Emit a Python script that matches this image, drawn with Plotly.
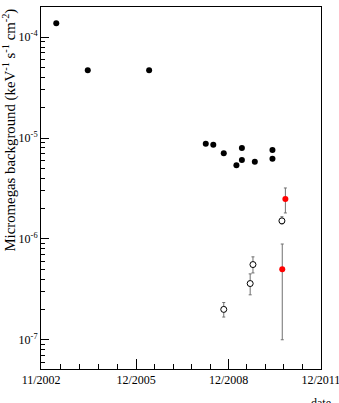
import plotly.graph_objects as go
import pandas as pd

# Black filled points (no visible error bars)
black_dates = ["2003-05-01", "2004-05-08", "2006-05-05", "2008-03-06", "2008-06-03",
               "2008-10-05", "2009-03-04", "2009-05-08", "2009-05-08", "2009-10-08",
               "2010-05-05", "2010-05-05"]
black_vals = [1.38e-4, 4.71e-5, 4.70e-5, 8.8e-6, 8.6e-6,
              7.07e-6, 5.37e-6, 7.96e-6, 6.05e-6, 5.82e-6,
              7.6e-6, 6.24e-6]

# Open circles with error bars
open_dates = ["2008-10-05", "2009-08-14", "2009-09-16", "2010-08-25"]
open_vals = [2.0e-7, 3.61e-7, 5.57e-7, 1.51e-6]
open_hi = [2.34e-7, 4.5e-7, 6.64e-7, 1.66e-6]
open_lo = [1.68e-7, 2.79e-7, 4.6e-7, 1.41e-6]

# Red filled points with error bars
red_dates = ["2010-10-05", "2010-08-29"]
red_vals = [2.49e-6, 5.0e-7]
red_hi = [3.2e-6, 8.9e-7]
red_lo = [1.81e-6, 1.0e-7]

x_tickvals = ["2002-11-02", "2005-12-01", "2008-12-01", "2011-11-30"]
x_ticktext = ["11/2002", "12/2005", "12/2008", "12/2011"]

X_RANGE = ["2002-11-01", "2011-12-01"]
Y_RANGE = [-7.29, -3.70]

FONT = "Liberation Serif"
ERRC = "#707070"
TICKC = "black"

# minor tick positions: 5 divisions per major interval (x), 2..9 per decade (y)
xt = pd.to_datetime(x_tickvals)
x_minor = []
for a, b in zip(xt[:-1], xt[1:]):
    for k in range(1, 5):
        x_minor.append((a + (b - a) * k / 5).strftime("%Y-%m-%d"))
y_minor = [k * 10.0 ** e for e in range(-8, -3) for k in range(2, 10)]


def err(vals, hi, lo):
    return dict(type="data", symmetric=False,
                array=[h - v for v, h in zip(vals, hi)],
                arrayminus=[v - l for v, l in zip(vals, lo)],
                color=ERRC, thickness=1, width=1.5)


fig = go.Figure()
fig.add_trace(go.Scatter(x=black_dates, y=black_vals, mode="markers",
                         marker=dict(color="black", size=6), showlegend=False))
fig.add_trace(go.Scatter(x=open_dates, y=open_vals, mode="markers",
                         error_y=err(open_vals, open_hi, open_lo),
                         marker=dict(color="white", size=6, line=dict(color="black", width=1)),
                         showlegend=False))
fig.add_trace(go.Scatter(x=red_dates, y=red_vals, mode="markers",
                         error_y=err(red_vals, red_hi, red_lo),
                         marker=dict(color="#ff0000", size=6), showlegend=False))
# carrier trace for the minor-tick overlay axes
fig.add_trace(go.Scatter(x=[x_minor[0]], y=[y_minor[10]], xaxis="x2", yaxis="y2",
                         mode="markers", marker=dict(size=0.1, opacity=0),
                         hoverinfo="skip", showlegend=False))

common = dict(tickcolor=TICKC, tickwidth=1, showgrid=False, zeroline=False,
              automargin=False)

fig.update_layout(
    width=339, height=403,
    margin=dict(l=41, r=18, t=7, b=34, autoexpand=False),
    paper_bgcolor="white", plot_bgcolor="white",
    font=dict(family=FONT, size=12, color="black"),
    xaxis=dict(type="date", range=X_RANGE,
               tickmode="array", tickvals=x_tickvals, ticktext=x_ticktext,
               ticks="inside", ticklen=10, ticklabeloverflow="allow",
               showline=True, linecolor="black", linewidth=1, mirror=True,
               tickfont=dict(family=FONT, size=12), **common),
    yaxis=dict(type="log", range=Y_RANGE,
               tickmode="array", tickvals=[1e-7, 1e-6, 1e-5, 1e-4],
               ticktext=["10<sup>-7</sup>", "10<sup>-6</sup>", "10<sup>-5</sup>", "10<sup>-4</sup>"],
               ticks="inside", ticklen=8,
               showline=True, linecolor="black", linewidth=1, mirror=True,
               tickfont=dict(family=FONT, size=12), **common),
    xaxis2=dict(type="date", range=X_RANGE, overlaying="x", anchor="y", side="bottom",
                tickmode="array", tickvals=x_minor, showticklabels=False,
                ticks="inside", ticklen=5, showline=False, **common),
    yaxis2=dict(type="log", range=Y_RANGE, overlaying="y", anchor="x", side="left",
                tickmode="array", tickvals=y_minor, showticklabels=False,
                ticks="inside", ticklen=4, showline=False, **common),
    annotations=[
        dict(text="Micromegas background (keV<sup>-1</sup> s<sup>-1</sup> cm<sup>-2</sup>)",
             xref="paper", yref="paper", x=-0.155, y=1.0, xanchor="left", yanchor="top",
             textangle=-90, showarrow=False, font=dict(family=FONT, size=14.8)),
        dict(text="date", xref="paper", yref="paper", x=1.043, y=-0.069,
             xanchor="right", yanchor="top", showarrow=False,
             font=dict(family=FONT, size=12)),
    ],
)

fig.write_html("out.html")
